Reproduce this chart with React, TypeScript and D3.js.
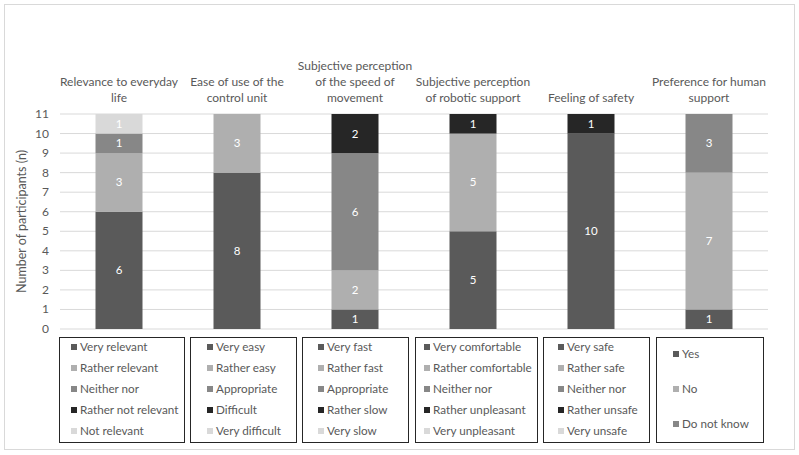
import React from "react";
import * as d3 from "d3";

const categories = [
  ["Relevance to everyday", "life"],
  ["Ease of use of the", "control unit"],
  ["Subjective perception", "of the speed of", "movement"],
  ["Subjective perception", "of robotic support"],
  ["Feeling of safety"],
  ["Preference for human", "support"],
];
const s1 = [6, 8, 1, 5, 10, 1];
const s2 = [3, 3, 2, 5, 0, 7];
const s3 = [1, 0, 6, 0, 0, 3];
const s4 = [0, 0, 2, 1, 1, 0];
const s5 = [1, 0, 0, 0, 0, 0];
const legends = [
  ["Very relevant", "Rather relevant", "Neither nor", "Rather not relevant", "Not relevant"],
  ["Very easy", "Rather easy", "Appropriate", "Difficult", "Very difficult"],
  ["Very fast", "Rather fast", "Appropriate", "Rather slow", "Very slow"],
  ["Very comfortable", "Rather comfortable", "Neither nor", "Rather unpleasant", "Very unpleasant"],
  ["Very safe", "Rather safe", "Neither nor", "Rather unsafe", "Very unsafe"],
  ["Yes", "No", "Do not know"],
];
const yTicks = d3.range(0, 12);
const colors = ["#5a5a5a", "#afafaf", "#878787", "#262626", "#d9d9d9"];

export default function App() {
  const W = 799, H = 455;
  const x0 = 60, x1 = 768;
  const y = d3.scaleLinear().domain([0, 11]).range([329, 114]);
  const x = d3.scaleBand<number>().domain(d3.range(6)).range([x0, x1]).paddingInner(0).paddingOuter(0);
  const bw = 47;
  const series = [s1, s2, s3, s4, s5];
  const font = "Lato, 'Open Sans', sans-serif";
  const legendBoxes = [[59, 184, 12], [190, 296, 17], [302, 408, 16], [415, 537, 9], [543, 649, 15], [656, 763, 17]];
  return (
    <svg width={W} height={H} style={{ position: "absolute", left: 0, top: 0 }} fontFamily={font}>
      <rect x={4.5} y={4.5} width={790} height={445} fill="#fff" stroke="#d9d9d9" />
      {yTicks.map((t) => (
        <g key={t}>
          <line x1={x0} x2={x1} y1={y(t)} y2={y(t)} stroke="#d9d9d9" strokeWidth={1} />
          <text x={49} y={y(t) + 4} textAnchor="end" fontSize={12} fill="#595959">{t}</text>
        </g>
      ))}
      <text transform={`translate(26,${y(5.5)}) rotate(-90)`} textAnchor="middle" fontSize={12.5} fill="#595959">
        Number of participants (n)
      </text>
      {categories.map((lines, i) => {
        const cx = x(i)! + x.bandwidth() / 2;
        return (
          <g key={i}>
            {lines.map((l, j) => (
              <text key={j} x={cx} y={102 - (lines.length - 1 - j) * 16} textAnchor="middle" fontSize={12} fill="#595959">{l}</text>
            ))}
            {(() => {
              let acc = 0;
              return series.map((s, k) => {
                const v = s[i];
                const b = acc;
                acc += v;
                if (!v) return null;
                return (
                  <g key={k}>
                    <rect x={cx - bw / 2} y={y(b + v)} width={bw} height={y(b) - y(b + v)} fill={colors[k]} />
                    <text x={cx} y={(y(b) + y(b + v)) / 2 + 4} textAnchor="middle" fontSize={11.5} fill="#fff">{v}</text>
                  </g>
                );
              });
            })()}
          </g>
        );
      })}
      {legendBoxes.map(([a, b, off], i) => {
        const items = legends[i];
        const three = items.length === 3;
        return (
          <g key={i}>
            <rect x={a + 0.5} y={337.5} width={b - a} height={105} fill="#fff" stroke="#262626" strokeWidth={1} />
            {items.map((t, k) => {
              const yy = three ? 354 + k * 35 : 347 + k * 21;
              const col = colors[k];
              const lx = a + off;
              return (
                <g key={k}>
                  <rect x={lx} y={yy - 3} width={6} height={6} fill={col} />
                  <text x={lx + 9} y={yy + 4} fontSize={11.7} fill="#595959">{t}</text>
                </g>
              );
            })}
          </g>
        );
      })}
    </svg>
  );
}
